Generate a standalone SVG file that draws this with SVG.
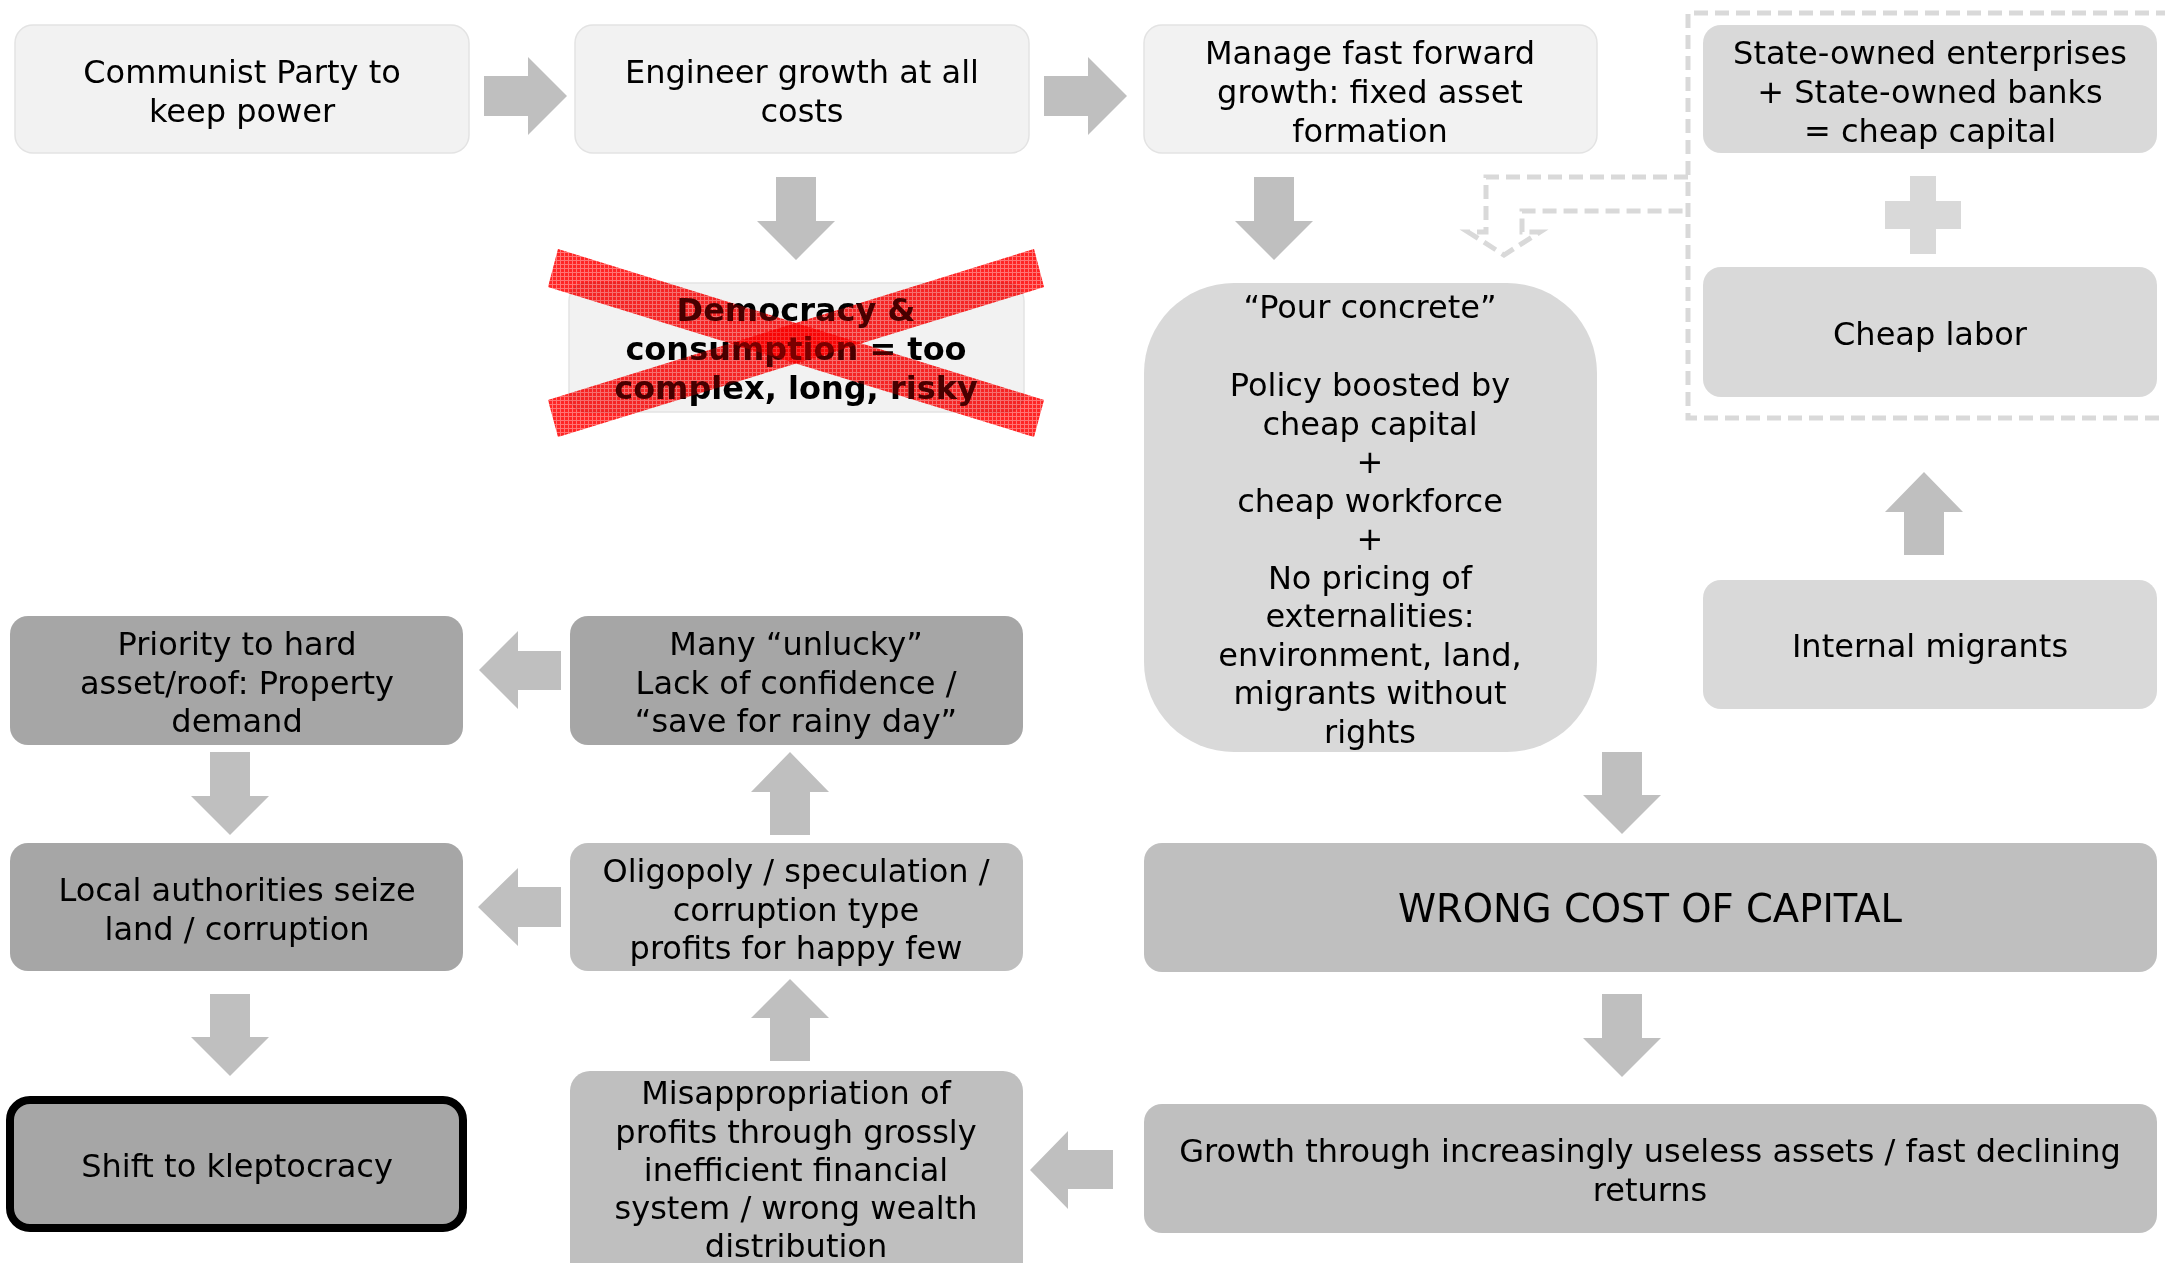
<svg xmlns="http://www.w3.org/2000/svg" width="2165" height="1263" viewBox="0 0 2165 1263">
  <style>
    text { font-family: "DejaVu Sans", Verdana, sans-serif; font-size: 32px; fill: #000; text-anchor: middle; }
    .bold { font-weight: bold; }
    .big { font-size: 38.5px; }
    .light { fill: #f2f2f2; stroke: #e3e3e3; stroke-width: 1.5; }
    .mid { fill: #d9d9d9; }
    .dark { fill: #a6a6a6; }
    .grey { fill: #bfbfbf; }
    .arrow { fill: #bfbfbf; }
    .dash { fill: none; stroke: #d9d9d9; stroke-width: 5; stroke-dasharray: 14 7; }
    .cross { fill: url(#hatch); opacity: 0.85; mix-blend-mode: multiply; }
    .tint { fill: #ff0000; opacity: 0.28; }
  </style>
  <defs>
    <pattern id="hatch" width="4" height="4" patternUnits="userSpaceOnUse">
      <rect width="4" height="4" fill="#ff1010"/>
      <path d="M0,0.5H4M0.5,0V4" stroke="#ff9090" stroke-width="1"/>
    </pattern>
  </defs>
  <rect width="2165" height="1263" fill="#ffffff"/>

  <!-- dashed container -->
  <g id="container">
    <path class="dash" d="M2170,13 H1688 V418 H2170"/>
  </g>

  <g id="n1">
    <rect class="light" x="15" y="25" width="454" height="128" rx="18"/>
    <text x="242" y="83">Communist Party to</text>
    <text x="242" y="122">keep power</text>
  </g>
  <g id="n2">
    <rect class="light" x="575" y="25" width="454" height="128" rx="18"/>
    <text x="802" y="83">Engineer growth at all</text>
    <text x="802" y="122">costs</text>
  </g>
  <g id="n3">
    <rect class="light" x="1144" y="25" width="453" height="128" rx="18"/>
    <text x="1370" y="64">Manage fast forward</text>
    <text x="1370" y="103">growth: fixed asset</text>
    <text x="1370" y="142">formation</text>
  </g>
  <g id="soe">
    <rect class="mid" x="1703" y="25" width="454" height="128" rx="18"/>
    <text x="1930" y="64">State-owned enterprises</text>
    <text x="1930" y="103">+ State-owned banks</text>
    <text x="1930" y="142">= cheap capital</text>
  </g>
  <g id="labor">
    <rect class="mid" x="1703" y="267" width="454" height="130" rx="18"/>
    <text x="1930" y="345">Cheap labor</text>
  </g>
  <g id="migrants">
    <rect class="mid" x="1703" y="580" width="454" height="129" rx="18"/>
    <text x="1930" y="657">Internal migrants</text>
  </g>
  <g id="pour">
    <rect class="mid" x="1144" y="283" width="453" height="469" rx="90"/>
    <text x="1370" y="318">“Pour concrete”</text>
    <text x="1370" y="396">Policy boosted by</text>
    <text x="1370" y="435">cheap capital</text>
    <text x="1370" y="473">+</text>
    <text x="1370" y="512">cheap workforce</text>
    <text x="1370" y="550">+</text>
    <text x="1370" y="589">No pricing of</text>
    <text x="1370" y="627">externalities:</text>
    <text x="1370" y="666">environment, land,</text>
    <text x="1370" y="704">migrants without</text>
    <text x="1370" y="743">rights</text>
  </g>
  <g id="democracy">
    <rect class="light" x="569" y="283" width="455" height="129" rx="18"/>
    <text class="bold" x="796" y="321">Democracy &amp;</text>
    <text class="bold" x="796" y="360">consumption = too</text>
    <text class="bold" x="796" y="399">complex, long, risky</text>
    <polygon class="cross" points="558,249 1044,400 1034,437 548,287"/>
    <polygon class="cross" points="548,400 1034,249 1044,287 558,437"/>
    <polygon class="tint" points="558,249 1044,400 1034,437 548,287"/>
    <polygon class="tint" points="548,400 1034,249 1044,287 558,437"/>
  </g>
  <g id="priority">
    <rect class="dark" x="10" y="616" width="453" height="129" rx="18"/>
    <text x="237" y="655">Priority to hard</text>
    <text x="237" y="694">asset/roof: Property</text>
    <text x="237" y="732">demand</text>
  </g>
  <g id="many">
    <rect class="dark" x="570" y="616" width="453" height="129" rx="18"/>
    <text x="796" y="655">Many “unlucky”</text>
    <text x="796" y="694">Lack of confidence /</text>
    <text x="796" y="732">“save for rainy day”</text>
  </g>
  <g id="local">
    <rect class="dark" x="10" y="843" width="453" height="128" rx="18"/>
    <text x="237" y="901">Local authorities seize</text>
    <text x="237" y="940">land / corruption</text>
  </g>
  <g id="oligopoly">
    <rect class="grey" x="570" y="843" width="453" height="128" rx="18"/>
    <text x="796" y="882">Oligopoly / speculation /</text>
    <text x="796" y="921">corruption type</text>
    <text x="796" y="959">profits for happy few</text>
  </g>
  <g id="shift">
    <rect x="10" y="1100" width="453" height="128" rx="20" fill="#a6a6a6" stroke="#000" stroke-width="8"/>
    <text x="237" y="1177">Shift to kleptocracy</text>
  </g>
  <g id="misappropriation">
    <rect class="grey" x="570" y="1071" width="453" height="215" rx="20"/>
    <text x="796" y="1104">Misappropriation of</text>
    <text x="796" y="1143">profits through grossly</text>
    <text x="796" y="1181">inefficient financial</text>
    <text x="796" y="1219">system / wrong wealth</text>
    <text x="796" y="1257">distribution</text>
  </g>
  <g id="wrong">
    <rect class="grey" x="1144" y="843" width="1013" height="129" rx="18"/>
    <text class="big" x="1650" y="922">WRONG COST OF CAPITAL</text>
  </g>
  <g id="growth">
    <rect class="grey" x="1144" y="1104" width="1013" height="129" rx="18"/>
    <text x="1650" y="1162">Growth through increasingly useless assets / fast declining</text>
    <text x="1650" y="1201">returns</text>
  </g>

  <g id="connectors">
    <!-- right arrows -->
    <polygon class="arrow" points="484,76 528,76 528,57 567,96 528,135 528,116 484,116"/>
    <polygon class="arrow" points="1044,76 1088,76 1088,57 1127,96 1088,135 1088,116 1044,116"/>
    <!-- down arrows -->
    <polygon class="arrow" points="776,177 816,177 816,221 835,221 796,260 757,221 776,221"/>
    <polygon class="arrow" points="1254,177 1294,177 1294,221 1313,221 1274,260 1235,221 1254,221"/>
    <polygon class="arrow" points="1602,752 1642,752 1642,795 1661,795 1622,834 1583,795 1602,795"/>
    <polygon class="arrow" points="1602,994 1642,994 1642,1038 1661,1038 1622,1077 1583,1038 1602,1038"/>
    <polygon class="arrow" points="210,752 250,752 250,796 269,796 230,835 191,796 210,796"/>
    <polygon class="arrow" points="210,994 250,994 250,1037 269,1037 230,1076 191,1037 210,1037"/>
    <!-- up arrows -->
    <polygon class="arrow" points="770,835 810,835 810,792 829,792 790,752 751,792 770,792"/>
    <polygon class="arrow" points="770,1061 810,1061 810,1018 829,1018 790,979 751,1018 770,1018"/>
    <polygon class="arrow" points="1904,555 1944,555 1944,512 1963,512 1924,472 1885,512 1904,512"/>
    <!-- left arrows -->
    <polygon class="arrow" points="561,651 518,651 518,631 479,670 518,709 518,690 561,690"/>
    <polygon class="arrow" points="561,887 518,887 518,868 478,907 518,946 518,927 561,927"/>
    <polygon class="arrow" points="1113,1150 1068,1150 1068,1131 1030,1170 1068,1209 1068,1189 1113,1189"/>
    <!-- plus -->
    <path fill="#d9d9d9" d="M1910,176 H1936 V201 H1961 V229 H1936 V254 H1910 V229 H1885 V201 H1910 Z"/>
    <!-- dashed bent arrow -->
    <path class="dash" d="M1688,177 H1486 V232 H1468 L1504,255 L1540,232 H1522 V211 H1688"/>
  </g>
</svg>
